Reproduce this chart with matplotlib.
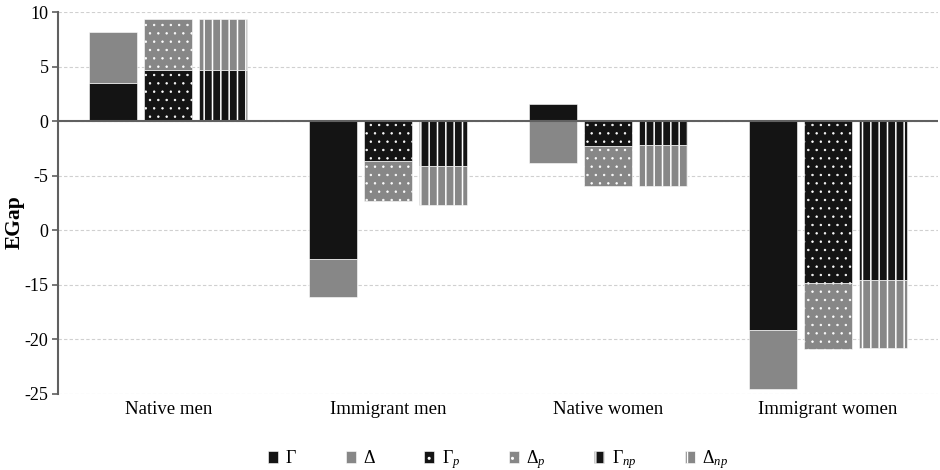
import numpy as np
import matplotlib.pyplot as plt

plt.rcParams['font.family'] = ['Liberation Serif', 'DejaVu Serif']
plt.rcParams['mathtext.fontset'] = 'custom'
plt.rcParams['mathtext.rm'] = 'Liberation Serif'
plt.rcParams['mathtext.it'] = 'Liberation Serif:italic'

categories = ["Native men", "Immigrant men", "Native women", "Immigrant women"]

# composantes Gamma / Delta pour chaque décomposition
gamma = [3.5, -12.6, 1.6, -19.1]
delta = [4.7, -3.5, -3.8, -5.5]
gamma_p = [4.7, -3.6, -2.3, -14.8]
delta_p = [4.7, -3.7, -3.6, -6.1]
gamma_np = [4.7, -4.1, -2.2, -14.6]
delta_np = [4.7, -3.6, -3.7, -6.2]

yticks = [10, 5, 0, -5, -10, -15, -20, -25]
ytick_labels = ["10", "5", "0", "-5", "0", "-15", "-20", "-25"]

black = "#141414"
gray = "#878787"

fig, ax = plt.subplots(figsize=(9.4, 4.7), dpi=100)
fig.subplots_adjust(left=0.062, right=0.998, top=0.974, bottom=0.162)

x = np.arange(len(categories))
width = 0.22

series = [
    (gamma, delta, -0.25, "", 1.0, r"$\Gamma$", r"$\Delta$"),
    (gamma_p, delta_p, 0.0, "..", 0.5, r"$\Gamma_{p}$", r"$\Delta_{p}$"),
    (gamma_np, delta_np, 0.25, "||", 1.1, r"$\Gamma_{np}$", r"$\Delta_{np}$"),
]

handles = []
for g, d, off, hatch, hlw, lab_g, lab_d in series:
    g = np.array(g)
    d = np.array(d)
    # on empile seulement si les deux composantes ont le même signe
    bottom = np.where(np.sign(g) == np.sign(d), g, 0)
    with plt.rc_context({'hatch.linewidth': hlw}):
        b1 = ax.bar(x + off, g, width, color=black, edgecolor="white",
                    linewidth=0.4, hatch=hatch, label=lab_g, zorder=3)
        b2 = ax.bar(x + off, d, width, bottom=bottom, color=gray, edgecolor="white",
                    linewidth=0.4, hatch=hatch, label=lab_d, zorder=3)
    for p in list(b1) + list(b2):
        if hasattr(p, "set_hatch_linewidth"):
            p.set_hatch_linewidth(hlw)
    handles += [b1, b2]

ax.axhline(0, color="#606060", linewidth=1.5, zorder=4)

ax.set_xlim(-0.5, 3.5)
ax.set_ylim(-25, 10)
ax.set_yticks(yticks)
ax.set_yticklabels(ytick_labels, fontsize=13)
ax.set_xticks(x)
ax.set_xticklabels(categories, fontsize=13.5)
ax.tick_params(axis="x", length=0, pad=5)
ax.tick_params(axis="y", length=4, color="#606060", width=1.2, pad=3)
ax.yaxis.grid(True, linestyle=(0, (3, 2)), color="#d0d0d0", linewidth=0.8)
ax.set_axisbelow(True)

for s in ["top", "right", "bottom"]:
    ax.spines[s].set_visible(False)
ax.spines["left"].set_color("#606060")
ax.spines["left"].set_linewidth(1.5)

ax.set_ylabel("EGap", fontsize=15.5, fontweight="bold")
ax.yaxis.set_label_coords(-0.038, 0.45)

leg = ax.legend(handles=handles, loc="upper center", bbox_to_anchor=(0.5, -0.1),
                ncol=6, frameon=False, fontsize=13, handlelength=0.55,
                handleheight=0.7, handletextpad=0.4, columnspacing=2.7)

fig.savefig("out.png")
